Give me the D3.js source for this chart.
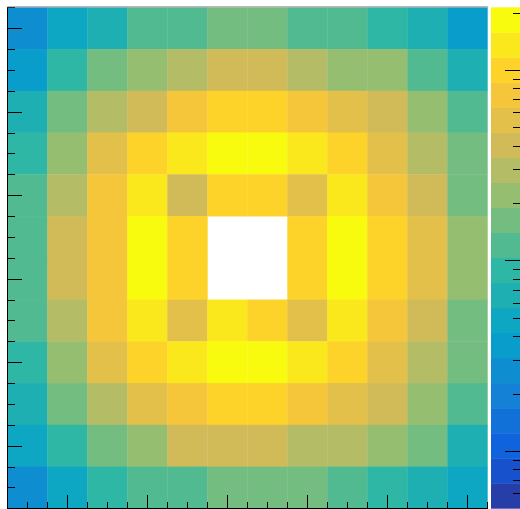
<!DOCTYPE html>
<html lang="en">
<head>
<meta charset="UTF-8">
<title>COLZ log heatmap</title>
<script src="https://cdn.jsdelivr.net/npm/d3@7"></script>
<style>
  body { margin: 0; background: #fff; }
  svg { display: block; }
  .axis path, .axis line { stroke: #000; shape-rendering: crispEdges; }
</style>
</head>
<body>
<svg id="chart" width="520" height="509"></svg>
<script>
// bin centres (x and y run 1..12), rows listed from top (y=12) to bottom (y=1)
const xBins = [1, 2, 3, 4, 5, 6, 7, 8, 9, 10, 11, 12];
const yBins = [12, 11, 10, 9, 8, 7, 6, 5, 4, 3, 2, 1];
// bin contents, null = empty bin (left white)
const row12 = [2.6, 4.8, 6.5, 12, 12, 16, 16, 12, 12, 8.9, 6.5, 3.6];
const row11 = [3.6, 8.9, 16, 22, 30, 40, 40, 30, 22, 22, 12, 6.5];
const row10 = [6.5, 16, 30, 40, 74, 100, 100, 74, 55, 40, 22, 12];
const row9  = [8.9, 22, 55, 100, 135, 180, 180, 135, 100, 55, 30, 16];
const row8  = [12, 30, 74, 135, 40, 100, 100, 55, 135, 74, 40, 16];
const row7  = [12, 40, 74, 180, 100, null, null, 100, 180, 100, 55, 22];
const row6  = [12, 40, 74, 180, 100, null, null, 100, 180, 100, 55, 22];
const row5  = [12, 30, 74, 135, 55, 135, 100, 55, 135, 74, 40, 16];
const row4  = [8.9, 22, 55, 100, 135, 180, 180, 135, 100, 55, 30, 16];
const row3  = [6.5, 16, 30, 55, 74, 100, 100, 74, 55, 40, 22, 12];
const row2  = [4.8, 8.9, 16, 22, 40, 40, 40, 30, 30, 22, 16, 6.5];
const row1  = [2.6, 4.8, 8.9, 12, 12, 16, 16, 16, 12, 8.9, 6.5, 4.8];
const rows = [row12, row11, row10, row9, row8, row7, row6, row5, row4, row3, row2, row1];

// z axis (log) range and ticks of the palette
const zRange = [0.5, 213];
const zMajorTicks = [1, 10, 100];
const zMinorTicks = [0.6, 0.7, 0.8, 0.9, 2, 3, 4, 5, 6, 7, 8, 9, 20, 30, 40, 50, 60, 70, 80, 90, 200];
const xMajorTicks = [2, 4, 6, 8, 10, 12];
const yMajorTicks = [2, 4, 6, 8, 10, 12];
const nContours = 20;

// frame geometry
const frameL = 7.3, frameR = 487.3, frameT = 7.3, frameB = 508.3;
const palX = 491, palAxisX = 521;

const svg = d3.select('#chart');

let xScale = d3.scaleLinear().domain([0.5, 12.5]).range([frameL, frameR]);
let yScale = d3.scaleLinear().domain([0.5, 12.5]).range([frameB, frameT]);
let zScale = d3.scaleLog().domain(zRange).range([frameB, frameT]);

// ROOT kBird palette stops
const birdStops = [0, 0.125, 0.25, 0.375, 0.5, 0.625, 0.75, 0.875, 1];
const birdR = [0.2082, 0.0592, 0.0780, 0.0232, 0.1802, 0.5301, 0.8186, 0.9956, 0.9764];
const birdG = [0.1664, 0.3599, 0.5041, 0.6419, 0.7178, 0.7492, 0.7328, 0.7862, 0.9832];
const birdB = [0.5293, 0.8684, 0.8385, 0.7914, 0.6425, 0.4662, 0.3499, 0.1968, 0.0539];
const rS = d3.scaleLinear().domain(birdStops).range(birdR);
const gS = d3.scaleLinear().domain(birdStops).range(birdG);
const bS = d3.scaleLinear().domain(birdStops).range(birdB);
function birdColor(t) {
  return d3.rgb(Math.round(rS(t) * 255), Math.round(gS(t) * 255), Math.round(bS(t) * 255)).formatHex();
}
// colour of each contour band, picked the way ROOT does it
const bandColors = d3.range(nContours).map(k => birdColor(Math.floor((k + 0.99) * 255 / nContours) / 254));

const lmin = Math.log10(zRange[0]), lmax = Math.log10(zRange[1]);
const levels = d3.range(nContours + 1).map(k => Math.pow(10, lmin + k * (lmax - lmin) / nContours));
function bandOf(v) {
  let k = Math.floor((Math.log10(v) - lmin) / (lmax - lmin) * nContours);
  return Math.max(0, Math.min(nContours - 1, k));
}

// cells
let cells = [];
rows.forEach((r, i) => r.forEach((v, j) => cells.push({x: xBins[j], y: yBins[i], v: v})));
const bw = xScale(1.5) - xScale(0.5);
const bh = yScale(0.5) - yScale(1.5);
svg.append('g').selectAll('rect')
  .data(cells.filter(d => d.v !== null))
  .enter().append('rect')
  .attr('x', d => xScale(d.x - 0.5))
  .attr('y', d => yScale(d.y + 0.5))
  .attr('width', bw + 0.4)
  .attr('height', bh + 0.4)
  .attr('fill', d => bandColors[bandOf(d.v)]);

// palette
svg.append('g').selectAll('rect')
  .data(d3.range(nContours))
  .enter().append('rect')
  .attr('x', palX)
  .attr('y', k => zScale(levels[k + 1]))
  .attr('width', 40)
  .attr('height', k => zScale(levels[k]) - zScale(levels[k + 1]) + 0.4)
  .attr('fill', k => bandColors[k]);

// axes, ticks inside the frame, no labels (outside the visible area)
function addAxis(axisFn, scale, major, minor, bigLen, smallLen, transform) {
  let g = svg.append('g').attr('class', 'axis').attr('transform', transform);
  g.call(axisFn(scale).tickValues(minor).tickSize(-smallLen).tickSizeOuter(0).tickFormat(''));
  let g2 = svg.append('g').attr('class', 'axis').attr('transform', transform);
  g2.call(axisFn(scale).tickValues(major).tickSize(-bigLen).tickSizeOuter(0).tickFormat(''));
  g2.select('.domain').remove();
  return g;
}
const xMinor = d3.range(1, 25).map(i => 0.5 + i * 0.5).filter(v => !xMajorTicks.includes(v));
const yMinor = d3.range(1, 25).map(i => 0.5 + i * 0.5).filter(v => !yMajorTicks.includes(v));
addAxis(d3.axisBottom, xScale, xMajorTicks, xMinor, 13, 6.5, `translate(0,${frameB})`);
addAxis(d3.axisLeft, yScale, yMajorTicks, yMinor, 15, 7.5, `translate(${frameL},0)`);
addAxis(d3.axisRight, zScale, zMajorTicks, zMinorTicks, 16, 8, `translate(${palAxisX},0)`);

// top edge of the frame
svg.append('line')
  .attr('x1', frameL).attr('x2', frameR + 1)
  .attr('y1', frameT - 0.5).attr('y2', frameT - 0.5)
  .attr('stroke', '#999');
</script>
</body>
</html>
